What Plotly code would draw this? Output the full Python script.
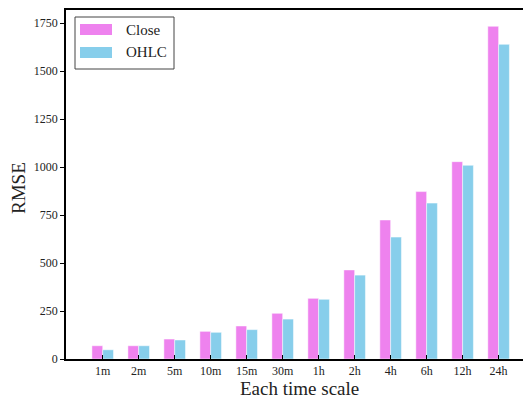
import plotly.graph_objects as go

categories = ["1m", "2m", "5m", "10m", "15m", "30m", "1h", "2h", "4h", "6h", "12h", "24h"]
close_rmse = [69, 69, 104, 144, 172, 238, 316, 464, 724, 872, 1028, 1733]
ohlc_rmse = [48, 69, 99, 139, 153, 208, 311, 437, 635, 812, 1009, 1639]
y_ticks = [0, 250, 500, 750, 1000, 1250, 1500, 1750]
series_names = ["Close", "OHLC"]
series_colors = ["#EE82EE", "#87CEEB"]

FONT = "Liberation Serif"
# the page body adds an 8px offset, so the figure is 8px smaller than the window
W, H = 523, 391
PL, PR, PT, PB = 66, 531, 10, 359  # plot area in window pixels


def px(x):
    return (x - PL) / (PR - PL)


def py(y):
    return (PB - y) / (PB - PT)


fig = go.Figure()
for name, vals, col in zip(series_names, [close_rmse, ohlc_rmse], series_colors):
    fig.add_trace(go.Bar(x=categories, y=vals, name=name, showlegend=False,
                         marker=dict(color=col, line=dict(color="rgba(255,255,255,0.6)", width=0.8))))

shapes = [dict(type="rect", xref="paper", yref="paper",
               x0=px(75), x1=px(174), y0=py(69), y1=py(17),
               line=dict(color="#444", width=1), fillcolor="white", layer="above")]
annotations = []
for i, (name, col) in enumerate(zip(series_names, series_colors)):
    cy = 29.5 + i * 23
    shapes.append(dict(type="rect", xref="paper", yref="paper",
                       x0=px(80), x1=px(112), y0=py(cy + 5.5), y1=py(cy - 5.5),
                       line=dict(width=0), fillcolor=col, layer="above"))
    annotations.append(dict(text=name, xref="paper", yref="paper", x=px(124), y=py(cy),
                            xanchor="left", yanchor="middle", showarrow=False,
                            font=dict(family=FONT, size=15, color="#222")))

annotations.append(dict(text="Each time scale", xref="paper", yref="paper", x=px(299), y=py(388),
                        xanchor="center", yanchor="middle", showarrow=False,
                        font=dict(family=FONT, size=19, color="#222")))
annotations.append(dict(text="RMSE", xref="paper", yref="paper", x=px(18), y=py(188),
                        xanchor="center", yanchor="middle", showarrow=False, textangle=-90,
                        font=dict(family=FONT, size=19, color="#222")))

fig.update_layout(
    width=W, height=H,
    margin=dict(l=PL - 8, r=0, t=PT - 8, b=H - (PB - 8)),
    paper_bgcolor="white", plot_bgcolor="white",
    barmode="group", bargap=0.4, bargroupgap=0,
    font=dict(family=FONT, color="#222"),
    shapes=shapes, annotations=annotations,
)
fig.update_xaxes(
    range=[-1.02, 11.9], showline=True, linecolor="black", linewidth=1.5, mirror=True,
    ticks="inside", ticklen=4, tickcolor="black", automargin=False,
    tickfont=dict(family=FONT, size=12, color="#222"),
    showgrid=False,
)
fig.update_yaxes(
    range=[0, 1818], tickvals=y_ticks, showline=True, linecolor="black", linewidth=1.5, mirror=True,
    ticks="outside", ticklen=4, tickcolor="black", automargin=False,
    tickfont=dict(family=FONT, size=12, color="#222"),
    showgrid=False, zeroline=False,
)

fig.write_html("out.html")
